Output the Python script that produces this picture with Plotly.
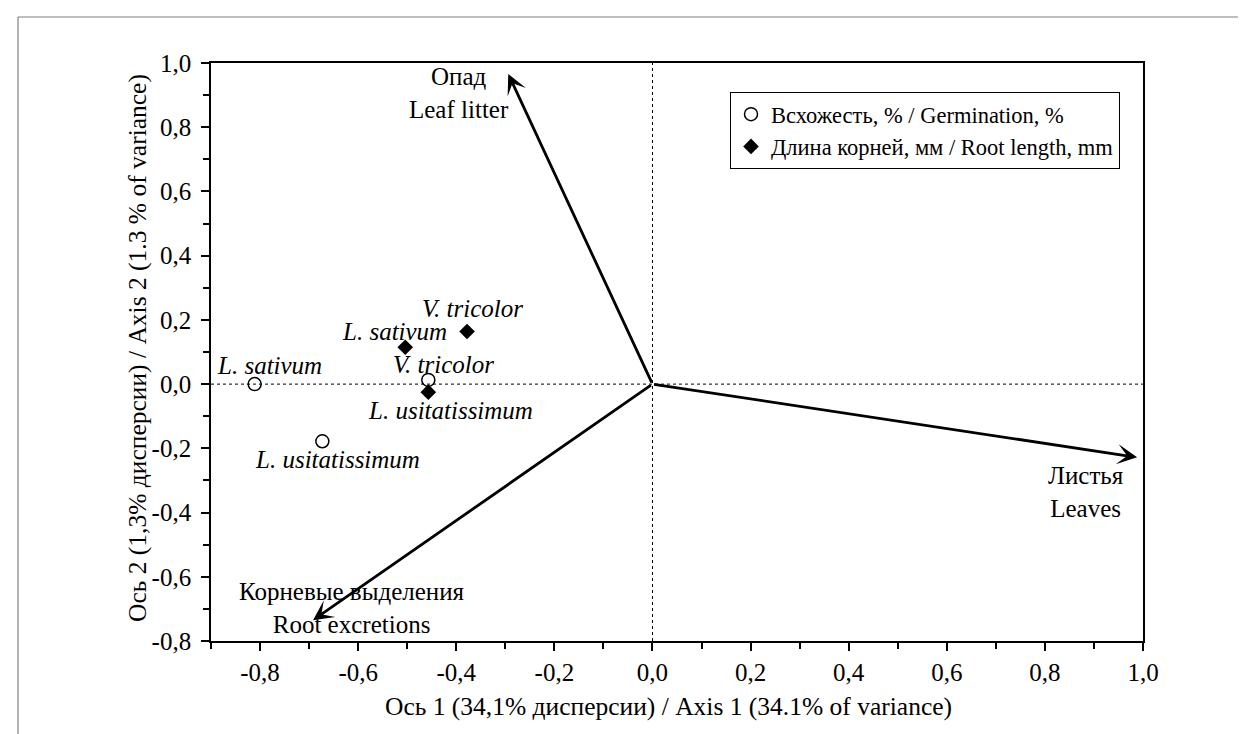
import plotly.graph_objects as go

FONT = "Liberation Serif"

# ---------------- data ----------------
germ_species = ["L. sativum", "L. usitatissimum", "V. tricolor"]
germ_ax1 = [-0.811, -0.673, -0.457]
germ_ax2 = [0.000, -0.178, 0.013]

root_species = ["L. sativum", "L. usitatissimum", "V. tricolor"]
root_ax1 = [-0.504, -0.457, -0.378]
root_ax2 = [0.115, -0.025, 0.164]

vec_names_ru = ["Опад", "Корневые выделения", "Листья"]
vec_names_en = ["Leaf litter", "Root excretions", "Leaves"]
vec_ax1 = [-0.294, -0.692, 0.988]
vec_ax2 = [0.966, -0.735, -0.228]

x_tickvals = [-0.8, -0.6, -0.4, -0.2, 0.0, 0.2, 0.4, 0.6, 0.8, 1.0]
x_ticktext = ["-0,8", "-0,6", "-0,4", "-0,2", "0,0", "0,2", "0,4", "0,6", "0,8", "1,0"]
y_tickvals = [-0.8, -0.6, -0.4, -0.2, 0.0, 0.2, 0.4, 0.6, 0.8, 1.0]
y_ticktext = ["-0,8", "-0,6", "-0,4", "-0,2", "0,0", "0,2", "0,4", "0,6", "0,8", "1,0"]

x_range = [-0.9, 1.0]
y_range = [-0.8, 1.0]

legend_germ = "Всхожесть, % / Germination, %"
legend_root = "Длина корней, мм / Root length, mm"
x_title = "Ось 1 (34,1% дисперсии) / Axis 1 (34.1% of variance)"
y_title = "Ось 2 (1,3% дисперсии) / Axis 2 (1.3 % of variance)"

# ---------------- layout constants ----------------
W, H = 1246, 734
ML, MR, MT, MB = 203, 111, 55, 101
PW, PH = W - ML - MR, H - MT - MB


def px_x(px):
    return (px - ML) / PW


def px_y(py):
    return (H - MB - py) / PH


# label pixel offsets (xshift, yshift)
germ_label_off = [(15, 19), (15, -18), (15, 15)]
root_label_off = [(-11, 16), (22, -18), (5, 23)]
vec_label_off = [(-49, -19), (39, 12), (-51, -35)]

fig = go.Figure()

# dotted reference lines through origin
fig.add_trace(go.Scatter(x=[0, 0], y=y_range, mode="lines",
                         line=dict(color="black", width=1, dash="dot"),
                         showlegend=False, hoverinfo="skip"))
fig.add_trace(go.Scatter(x=x_range, y=[0, 0], mode="lines",
                         line=dict(color="black", width=1, dash="dot"),
                         showlegend=False, hoverinfo="skip"))

fig.add_trace(go.Scatter(
    x=germ_ax1, y=germ_ax2, mode="markers", name=legend_germ,
    marker=dict(symbol="circle-open", size=13, color="black",
                line=dict(width=1.5, color="black"))))
fig.add_trace(go.Scatter(
    x=root_ax1, y=root_ax2, mode="markers", name=legend_root,
    marker=dict(symbol="diamond", size=12, color="black")))

ann = []
for sp, xv, yv, (dx, dy) in zip(germ_species, germ_ax1, germ_ax2, germ_label_off):
    ann.append(dict(x=xv, y=yv, xref="x", yref="y", text=f"<i>{sp}</i>",
                    showarrow=False, xshift=dx, yshift=dy,
                    font=dict(family=FONT, size=25, color="black")))
for sp, xv, yv, (dx, dy) in zip(root_species, root_ax1, root_ax2, root_label_off):
    ann.append(dict(x=xv, y=yv, xref="x", yref="y", text=f"<i>{sp}</i>",
                    showarrow=False, xshift=dx, yshift=dy,
                    font=dict(family=FONT, size=25, color="black")))

for ru, en, xv, yv, off in zip(vec_names_ru, vec_names_en, vec_ax1, vec_ax2,
                               vec_label_off):
    ann.append(dict(x=xv, y=yv, xref="x", yref="y", ax=0, ay=0,
                    axref="x", ayref="y", text="", showarrow=True,
                    arrowhead=3, arrowsize=1.2, arrowwidth=2.8,
                    arrowcolor="black", standoff=0, startstandoff=0))
    ann.append(dict(x=xv, y=yv, xref="x", yref="y", text=f"{ru}<br>{en}",
                    showarrow=False, align="center",
                    xshift=off[0], yshift=off[1],
                    font=dict(family=FONT, size=25, color="black")))

# axis titles
ann.append(dict(x=px_x(660), y=px_y(698), xref="paper", yref="paper",
                text=x_title, showarrow=False, xanchor="center", yanchor="middle",
                font=dict(family=FONT, size=25.5, color="black")))
ann.append(dict(x=px_x(129), y=px_y(340), xref="paper", yref="paper",
                text=y_title, showarrow=False, textangle=-90,
                xanchor="center", yanchor="middle",
                font=dict(family=FONT, size=25.5, color="black")))
fig.update_layout(annotations=ann)

# outer frame (grey lines at top and left)
fig.add_shape(type="line", xref="paper", yref="paper",
              x0=px_x(10), x1=px_x(W), y0=px_y(9), y1=px_y(9),
              line=dict(color="#7f7f7f", width=1.2))
fig.add_shape(type="line", xref="paper", yref="paper",
              x0=px_x(10), x1=px_x(10), y0=px_y(9), y1=px_y(H),
              line=dict(color="#7f7f7f", width=1.2))

axis_common = dict(showgrid=False, zeroline=False, showline=True,
                   linecolor="black", linewidth=1.6, mirror=True,
                   ticks="outside", ticklen=8, tickwidth=1.6, tickcolor="black",
                   tickfont=dict(family=FONT, size=25, color="black"),
                   minor=dict(ticks="outside", dtick=0.1, ticklen=6,
                              tickwidth=1.6, tickcolor="black", showgrid=False))

fig.update_xaxes(range=x_range, tickvals=x_tickvals, ticktext=x_ticktext,
                 ticklabelstandoff=0, **axis_common)
fig.update_yaxes(range=y_range, tickvals=y_tickvals, ticktext=y_ticktext,
                 ticklabelstandoff=5, **axis_common)

fig.update_layout(
    width=W, height=H,
    margin=dict(l=ML, r=MR, t=MT, b=MB, autoexpand=False),
    paper_bgcolor="white", plot_bgcolor="white",
    font=dict(family=FONT, size=22, color="black"),
    showlegend=True,
    legend=dict(x=px_x(722), y=px_y(84), xanchor="left", yanchor="top",
                bgcolor="white", bordercolor="black", borderwidth=1,
                font=dict(family=FONT, size=22.5, color="black"),
                tracegroupgap=0, itemwidth=30),
)

fig.write_html("out.html")
